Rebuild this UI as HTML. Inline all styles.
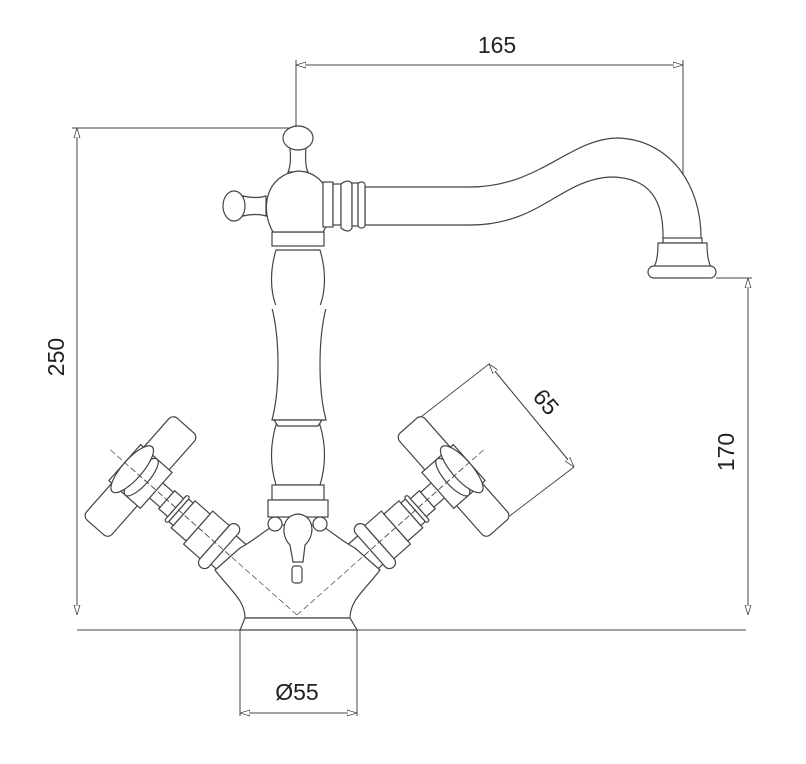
<!DOCTYPE html>
<html><head><meta charset="utf-8"><style>
html,body{margin:0;padding:0;background:#fff;width:806px;height:764px;overflow:hidden}
text{font-family:"Liberation Sans",sans-serif;font-size:23px;fill:#222}
</style></head><body>
<svg width="806" height="764" viewBox="0 0 806 764" xmlns="http://www.w3.org/2000/svg">
<defs>
<marker id="a" viewBox="0 0 10 10" refX="10" refY="5" markerWidth="10" markerHeight="10" orient="auto-start-reverse" markerUnits="userSpaceOnUse"><path d="M0,2 L10,5 L0,8 Z" fill="#fff" stroke="#444" stroke-width="0.8"/></marker>
<g id="h" fill="#fff" stroke="#444" stroke-width="1.2">
  <path d="M10,-30 L60,-18 L60,18 L10,30 Z" stroke="none"/>
  <line x1="30" y1="-19" x2="100" y2="-19"/><line x1="30" y1="19" x2="100" y2="19"/>
  <rect x="98" y="-28" width="12" height="56" rx="6"/>
  <rect x="110" y="-22" width="22" height="44"/>
  <rect x="132" y="-18" width="20" height="36"/>
  <rect x="152" y="-15" width="6" height="30"/>
  <rect x="158" y="-17" width="4" height="34" rx="2"/>
  <rect x="162" y="-12" width="12" height="24"/>
  <rect x="174" y="-10" width="18" height="20"/>
  <rect x="192" y="-68" width="34" height="136" rx="6"/>
  <rect x="188" y="-24" width="42" height="48"/>
  <ellipse cx="208" cy="0" rx="8" ry="24"/>
  <ellipse cx="220" cy="0" rx="10" ry="30"/>
  <line x1="0" y1="0" x2="250" y2="0" stroke-dasharray="6,3" stroke-width="0.7"/>
</g>
</defs>
<g stroke="#444" stroke-width="1" fill="none">
<line x1="296" y1="65" x2="683" y2="65" marker-start="url(#a)" marker-end="url(#a)"/>
<line x1="296" y1="60" x2="296" y2="130"/>
<line x1="683" y1="60" x2="683" y2="225"/>
<line x1="77" y1="128" x2="77" y2="615" marker-start="url(#a)" marker-end="url(#a)"/>
<line x1="72" y1="128" x2="292" y2="128"/>
<line x1="748" y1="278" x2="748" y2="615" marker-start="url(#a)" marker-end="url(#a)"/>
<line x1="716" y1="278" x2="752" y2="278"/>
<line x1="77" y1="630" x2="746" y2="630"/>
<line x1="240" y1="630" x2="240" y2="716"/><line x1="357" y1="630" x2="357" y2="716"/>
<line x1="240" y1="713" x2="357" y2="713" marker-start="url(#a)" marker-end="url(#a)"/>
<polyline points="417,420 489,364 574,467 503,521" stroke-width="0.9"/>
<line x1="489" y1="364" x2="574" y2="467" marker-start="url(#a)" marker-end="url(#a)"/>
</g>
<text x="497" y="53" text-anchor="middle">165</text>
<text transform="translate(64,357) rotate(-90)" text-anchor="middle">250</text>
<text transform="translate(734,452) rotate(-90)" text-anchor="middle">170</text>
<text x="297" y="700" text-anchor="middle">Ø55</text>
<text transform="translate(540,407) rotate(50)" text-anchor="middle">65</text>

<g fill="#fff" stroke="#444" stroke-width="1.2">
<g transform="translate(297,615) rotate(-138.5)"><use href="#h"/></g>
<g transform="translate(297,615) scale(-1,1) rotate(-138.5)"><use href="#h"/></g>
<path d="M245,618 C245,600 230,590 215,570 L240,548 C255,540 265,530 275,525 L320,525 C330,530 340,540 355,548 L380,570 C365,590 350,600 350,618 Z"/>
<line x1="297" y1="615" x2="130" y2="467" stroke-dasharray="6,3" stroke-width="0.7"/>
<line x1="297" y1="615" x2="464" y2="467" stroke-dasharray="6,3" stroke-width="0.7"/>
<path d="M245,618 L350,618 L357,630 L240,630 Z"/>
<path d="M276,250 C270,270 270,290 276,306 L320,306 C326,290 326,270 320,250 Z"/>
<path d="M272,308 C280,340 280,390 272,420 L326,420 C318,390 318,340 326,308 Z"/>
<rect x="270" y="305" width="58" height="4" stroke="none"/>
<path d="M276,425 C270,445 270,465 276,485 L320,485 C326,465 326,445 320,425 Z"/>
<path d="M274,420 L322,420 L318,426 L278,426 Z"/>
<rect x="272" y="485" width="52" height="15"/>
<rect x="268" y="500" width="60" height="17"/>
<circle cx="275" cy="524" r="7"/><circle cx="320" cy="524" r="7"/>
<path d="M290,545 C280,535 282,515 298,514 C314,515 316,535 305,545 L303,562 L293,562 Z"/>
<rect x="292" y="566" width="10" height="17" rx="3"/>
<rect x="272" y="232" width="52" height="14"/>
<path d="M243,196 C252,198 260,198 266,196 L266,216 C260,214 252,214 243,216 Z"/>
<ellipse cx="234" cy="206" rx="11" ry="15"/>
<path d="M290,148 L306,148 C305,160 306,168 308,172 L288,172 C290,168 291,160 290,148 Z"/>
<ellipse cx="298" cy="138" rx="15" ry="12"/>
<path d="M273,232 C260,210 265,175 298,171 C320,172 330,190 327,200 L327,225 L323,232 Z"/>
<path d="M365,187 L470,187 C540,187 570,138 618,138 C670,140 702,185 701,240 L663,240 C664,200 650,177 610,177 C560,180 540,225 470,225 L365,225 Z"/>
<rect x="323" y="182" width="10" height="45"/>
<rect x="333" y="184" width="8" height="41"/>
<path d="M341,184 C346,180 350,180 352,184 L352,228 C350,232 346,232 341,228 Z"/>
<rect x="352" y="183" width="6" height="43"/>
<rect x="358" y="182" width="7" height="46" rx="3"/>
<rect x="663" y="238" width="39" height="5"/>
<path d="M658,243 L707,243 C707,260 710,265 712,270 L652,270 C656,265 658,258 658,243 Z"/>
<rect x="648" y="266" width="68" height="12" rx="6"/>
</g>
</svg>
</body></html>
